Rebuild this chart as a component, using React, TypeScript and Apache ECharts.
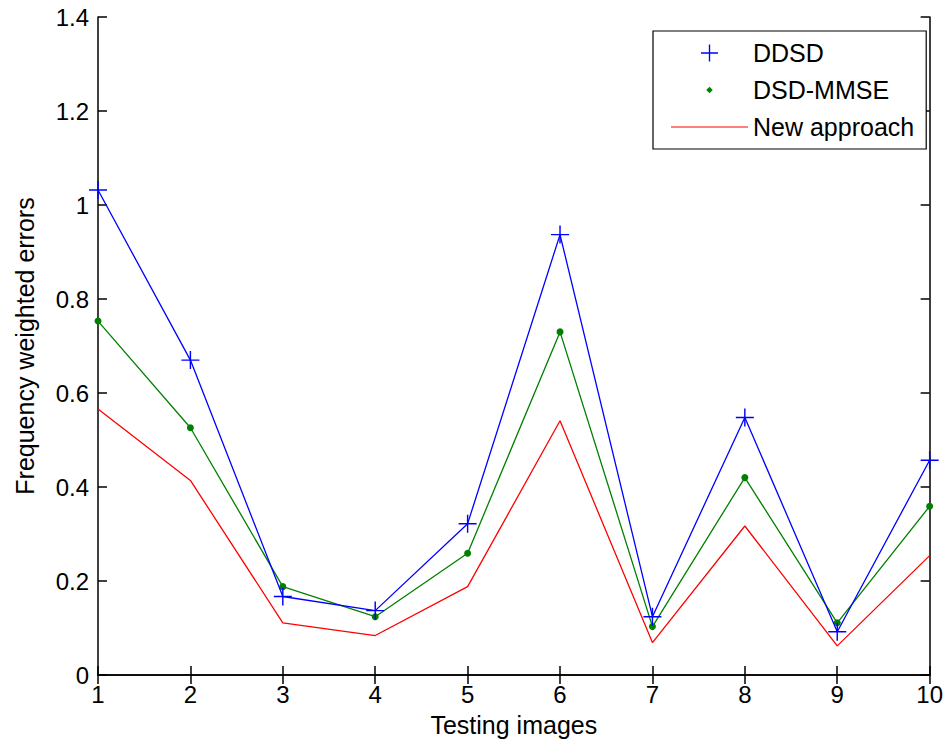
import React, { useEffect, useRef } from "react";
import * as echarts from "echarts";

const images = [1, 2, 3, 4, 5, 6, 7, 8, 9, 10];
const ddsd = [1.032, 0.67, 0.167, 0.137, 0.322, 0.937, 0.124, 0.548, 0.092, 0.457];
const dsdMmse = [0.753, 0.526, 0.188, 0.124, 0.259, 0.73, 0.103, 0.42, 0.111, 0.359];
const newApproach = [0.566, 0.414, 0.111, 0.084, 0.188, 0.541, 0.069, 0.317, 0.062, 0.254];
const seriesNames = ["DDSD", "DSD-MMSE", "New approach"];

const FONT = "'Liberation Sans', Arial, sans-serif";
const PLUS = "path://M0,9.2 L20,9.2 L20,10.8 L0,10.8 Z M9.2,0 L10.8,0 L10.8,20 L9.2,20 Z";
const DOT_ICON = "path://M0,0 M20,20 M10,6.2 L13.8,10 L10,13.8 L6.2,10 Z";
const LINE_ICON = "path://M0,0 M77,17 M0,7.9 L77,7.9 L77,9.1 L0,9.1 Z";

export default function App() {
  const ref = useRef<HTMLDivElement>(null);
  useEffect(() => {
    if (!ref.current) return;
    const chart = echarts.init(ref.current, null, { renderer: "svg" });
    const pairs = (arr: number[]) => arr.map((v, i) => [images[i], v]);
    const axisLine = { show: true, lineStyle: { color: "#000", width: 1.5 } };
    const tick = { show: true, inside: true, length: 9, lineStyle: { color: "#000", width: 1.5 } };
    chart.setOption({
      animation: false,
      backgroundColor: "#fff",
      textStyle: { fontFamily: FONT },
      grid: { left: 98, right: 14, top: 17, bottom: 69 },
      legend: {
        orient: "vertical",
        left: 653,
        top: 31,
        padding: [9, 12, 9, 18],
        itemWidth: 77,
        itemHeight: 17,
        itemGap: 11,
        borderColor: "#000",
        borderWidth: 1.2,
        backgroundColor: "#fff",
        textStyle: { fontFamily: FONT, fontSize: 25, color: "#000", lineHeight: 26 },
        data: [
          { name: seriesNames[0], icon: PLUS, itemStyle: { color: "#0000ff" } },
          { name: seriesNames[1], icon: DOT_ICON, itemStyle: { color: "#008000" } },
          { name: seriesNames[2], icon: LINE_ICON, itemStyle: { color: "#ff0000" } },
        ],
      },
      xAxis: [
        {
          type: "value",
          min: 1,
          max: 10,
          interval: 1,
          name: "Testing images",
          nameLocation: "middle",
          nameGap: 37,
          nameTextStyle: { fontFamily: FONT, fontSize: 25, color: "#000" },
          axisLine,
          axisTick: tick,
          axisLabel: { fontFamily: FONT, fontSize: 24, color: "#000", margin: 7 },
          splitLine: { show: false },
        },
        {
          type: "value",
          position: "top",
          min: 1,
          max: 10,
          interval: 1,
          axisLine,
          axisTick: tick,
          axisLabel: { show: false },
          splitLine: { show: false },
        },
      ],
      yAxis: [
        {
          type: "value",
          min: 0,
          max: 1.4,
          interval: 0.2,
          name: "Frequency weighted errors",
          nameLocation: "middle",
          nameGap: 61,
          nameTextStyle: { fontFamily: FONT, fontSize: 25, color: "#000" },
          axisLine,
          axisTick: tick,
          axisLabel: { fontFamily: FONT, fontSize: 24, color: "#000", margin: 9 },
          splitLine: { show: false },
        },
        {
          type: "value",
          position: "right",
          min: 0,
          max: 1.4,
          interval: 0.2,
          axisLine,
          axisTick: tick,
          axisLabel: { show: false },
          splitLine: { show: false },
        },
      ],
      series: [
        {
          name: seriesNames[0],
          type: "line",
          data: pairs(ddsd),
          symbol: PLUS,
          symbolSize: 18,
          itemStyle: { color: "#0000ff" },
          lineStyle: { color: "#0000ff", width: 1.3 },
          z: 4,
        },
        {
          name: seriesNames[1],
          type: "line",
          data: pairs(dsdMmse),
          symbol: "circle",
          symbolSize: 7,
          itemStyle: { color: "#008000" },
          lineStyle: { color: "#008000", width: 1.3 },
          z: 3,
        },
        {
          name: seriesNames[2],
          type: "line",
          data: pairs(newApproach),
          symbol: "none",
          itemStyle: { color: "#ff0000" },
          lineStyle: { color: "#ff0000", width: 1.3 },
          z: 2,
        },
      ],
    });
    return () => chart.dispose();
  }, []);
  return (
    <div
      ref={ref}
      style={{ position: "absolute", left: 0, top: 0, width: 946, height: 744, background: "#fff" }}
    />
  );
}
